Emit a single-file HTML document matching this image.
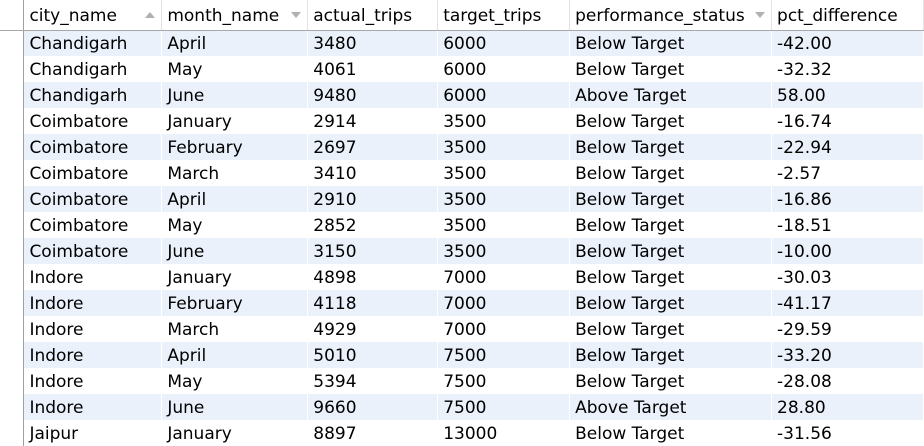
<!DOCTYPE html>
<html><head><meta charset="utf-8"><style>
body{margin:0;width:924px;height:442px;overflow:hidden;background:#fff;font-family:"DejaVu Sans","Liberation Sans",sans-serif;}
table{border-collapse:collapse;table-layout:fixed;position:absolute;left:0;top:0;}
td,th{padding:2px 0 0 5px;height:24px;font-size:17px;font-weight:normal;text-align:left;white-space:nowrap;overflow:hidden;color:#000;border-right:1px solid #fff;box-sizing:border-box;}
td{height:26px;}
th{height:30px;padding-top:3px;border-right:1px solid #e3e3e3;border-bottom:1px solid #a8a8a8;position:relative;}
td.g,th.g{padding:0;border-right:1px solid #a0a0a0;background:#fff;}
tr.s td{background:#eaf1fb;}
tr.s td.g{background:#fff;}
.ar{position:absolute;right:6px;top:12px;width:0;height:0;border-left:5px solid transparent;border-right:5px solid transparent;}
.up{border-bottom:6px solid #b0b0b0;}
.dn{border-top:6px solid #b0b0b0;}
</style></head><body>
<table>
<colgroup><col style="width:24px"><col style="width:138px"><col style="width:146px"><col style="width:130px"><col style="width:132px"><col style="width:202px"><col style="width:152px"></colgroup>
<thead><tr>
<th class="g"></th>
<th>city_name<span class="ar up"></span></th>
<th>month_name<span class="ar dn"></span></th>
<th>actual_trips</th>
<th>target_trips</th>
<th>performance_status<span class="ar dn"></span></th>
<th>pct_difference</th>
</tr></thead>
<tbody id="tb"></tbody></table>
<script>
const cities=["Chandigarh","Chandigarh","Chandigarh","Coimbatore","Coimbatore","Coimbatore","Coimbatore","Coimbatore","Coimbatore","Indore","Indore","Indore","Indore","Indore","Indore","Jaipur"];
const months=["April","May","June","January","February","March","April","May","June","January","February","March","April","May","June","January"];
const actual=[3480,4061,9480,2914,2697,3410,2910,2852,3150,4898,4118,4929,5010,5394,9660,8897];
const target=[6000,6000,6000,3500,3500,3500,3500,3500,3500,7000,7000,7000,7500,7500,7500,13000];
const status=["Below Target","Below Target","Above Target","Below Target","Below Target","Below Target","Below Target","Below Target","Below Target","Below Target","Below Target","Below Target","Below Target","Below Target","Above Target","Below Target"];
const pct=["-42.00","-32.32","58.00","-16.74","-22.94","-2.57","-16.86","-18.51","-10.00","-30.03","-41.17","-29.59","-33.20","-28.08","28.80","-31.56"];
const tb=document.getElementById('tb');
for(let i=0;i<cities.length;i++){
 const tr=document.createElement('tr');
 
 
 if(i%2===0)tr.className='s';
 const vals=['',cities[i],months[i],actual[i],target[i],status[i],pct[i]];
 const names=['row-gutter','city-name-cell','month-name-cell','actual-trips-cell','target-trips-cell','performance-status-cell','pct-difference-cell'];
 vals.forEach((v,j)=>{const td=document.createElement('td');
  
  
  if(j===0)td.className='g';td.textContent=v;tr.appendChild(td);});
 tb.appendChild(tr);
}
</script>
</body></html>
